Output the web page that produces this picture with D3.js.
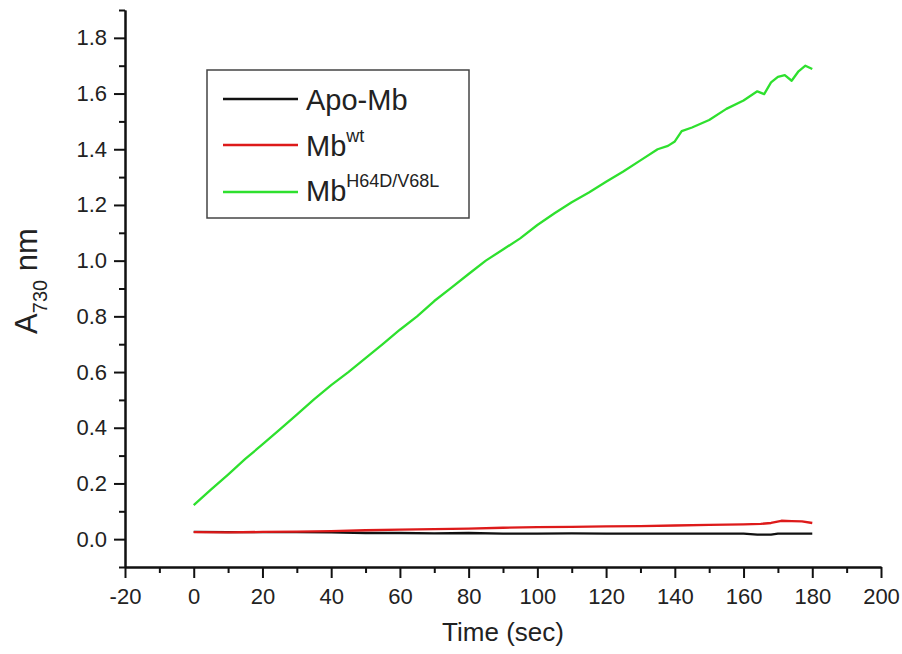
<!DOCTYPE html>
<meta charset="utf-8">
<style>
  body { margin: 0; background: #fff; }
  text { font-family: "Liberation Sans", Arial, sans-serif; fill: #222; }
  .axis path, .axis line { stroke: #111; stroke-width: 2; }
  .series { fill: none; stroke-width: 2.3; stroke-linejoin: round; }
</style>
<body></body>
<script src="https://cdn.jsdelivr.net/npm/d3@7"></script>
<script>

// time (sec), absorbance at 730 nm
var apoMb = [[0,0.026],[10,0.025],[20,0.025],[30,0.025],[40,0.024],[50,0.022],[60,0.022],
  [70,0.021],[80,0.022],[90,0.020],[100,0.020],[110,0.021],[120,0.020],[130,0.020],
  [140,0.020],[150,0.020],[160,0.020],[164,0.016],[168,0.016],[170,0.020],[180,0.020]];

var mbWt = [[0,0.025],[10,0.024],[20,0.026],[30,0.027],[40,0.029],[50,0.032],[60,0.034],
  [70,0.036],[80,0.038],[90,0.041],[100,0.043],[110,0.044],[120,0.046],[130,0.047],
  [140,0.049],[150,0.051],[160,0.053],[165,0.055],[168,0.058],[171,0.066],[174,0.065],
  [177,0.064],[180,0.058]];

var mbMut = [[0,0.122],[5,0.178],[10,0.232],[15,0.288],[20,0.340],[25,0.393],[30,0.447],
  [35,0.502],[40,0.553],[45,0.600],[50,0.650],[55,0.700],[60,0.752],[65,0.800],[70,0.855],
  [75,0.903],[80,0.952],[85,1.000],[90,1.040],[95,1.080],[100,1.128],[105,1.170],[110,1.210],
  [115,1.245],[120,1.283],[125,1.320],[130,1.360],[135,1.400],[138,1.412],[140,1.428],
  [142,1.465],[145,1.478],[150,1.505],[155,1.545],[160,1.575],[164,1.608],[166,1.598],
  [168,1.640],[170,1.660],[172,1.666],[174,1.646],[176,1.680],[178,1.700],[180,1.688]];

var xTicks = [-20, 0, 20, 40, 60, 80, 100, 120, 140, 160, 180, 200];
var yTicks = [0.0, 0.2, 0.4, 0.6, 0.8, 1.0, 1.2, 1.4, 1.6, 1.8];

var series = [
  {name: "Apo-Mb", sup: "", color: "#111111", values: apoMb},
  {name: "Mb", sup: "wt", color: "#dd1a1a", values: mbWt},
  {name: "Mb", sup: "H64D/V68L", color: "#2ee02e", values: mbMut}
];

var margin = {top: 10, right: 21, bottom: 87, left: 125};
var W = 902, H = 654;
var w = W - margin.left - margin.right,
    h = H - margin.top - margin.bottom;

var svg = d3.select("body").append("svg")
    .attr("width", W)
    .attr("height", H);

var g = svg.append("g")
    .attr("transform", "translate(" + margin.left + "," + margin.top + ")");

var x = d3.scaleLinear().domain([-20, 200]).range([0, w]);
var y = d3.scaleLinear().domain([-0.1, 1.9]).range([h, 0]);

// minor ticks
g.append("g").attr("class", "axis")
    .attr("transform", "translate(0," + h + ")")
    .call(d3.axisBottom(x).tickValues(d3.range(-10, 200, 20)).tickSize(6).tickSizeOuter(0).tickFormat(""));
g.append("g").attr("class", "axis")
    .call(d3.axisLeft(y).tickValues([-0.1, 0.1, 0.3, 0.5, 0.7, 0.9, 1.1, 1.3, 1.5, 1.7, 1.9]).tickSize(6).tickSizeOuter(0).tickFormat(""));

// major ticks
var xa = g.append("g").attr("class", "axis")
    .attr("transform", "translate(0," + h + ")")
    .call(d3.axisBottom(x).tickValues(xTicks).tickSize(11).tickSizeOuter(0)
      .tickFormat(function(d) { return String(d); }));
xa.selectAll("text")
    .attr("y", 37).attr("dy", 0)
    .style("font-size", "22px");

var ya = g.append("g").attr("class", "axis")
    .call(d3.axisLeft(y).tickValues(yTicks).tickSize(11).tickSizeOuter(0).tickFormat(d3.format(".1f")));
ya.selectAll("text")
    .attr("x", -18)
    .style("font-size", "22px");

var line = d3.line()
    .x(function(d) { return x(d[0]); })
    .y(function(d) { return y(d[1]); });

g.selectAll("path.series")
    .data(series)
    .enter().append("path")
    .attr("class", "series")
    .attr("stroke", function(d) { return d.color; })
    .attr("d", function(d) { return line(d.values); });

// axis titles
svg.append("text")
    .attr("x", margin.left + w / 2)
    .attr("y", 641)
    .attr("text-anchor", "middle")
    .style("font-size", "26px")
    .text("Time (sec)");

var yl = svg.append("text")
    .attr("transform", "translate(37,281) rotate(-90)")
    .attr("text-anchor", "middle")
    .style("font-size", "31px");
yl.append("tspan").text("A");
yl.append("tspan").attr("dy", 10).style("font-size", "20px").text("730");
yl.append("tspan").attr("dy", -10).text(" nm");

// legend
var lg = svg.append("g");
lg.append("rect")
    .attr("x", 207).attr("y", 70)
    .attr("width", 262).attr("height", 148)
    .attr("fill", "#fff")
    .attr("stroke", "#444")
    .attr("stroke-width", 1.5);

var rowY = [99, 145, 192];
var baseY = [110, 156, 201];

var items = lg.selectAll("g.item")
    .data(series)
    .enter().append("g").attr("class", "item");

items.append("line")
    .attr("x1", 223).attr("x2", 298)
    .attr("y1", function(d, i) { return rowY[i]; })
    .attr("y2", function(d, i) { return rowY[i]; })
    .attr("stroke", function(d) { return d.color; })
    .attr("stroke-width", 2.5);

var lt = items.append("text")
    .attr("x", 306)
    .attr("y", function(d, i) { return baseY[i]; })
    .style("font-size", "29px");
lt.append("tspan").text(function(d) { return d.name; });
lt.append("tspan")
    .attr("dy", -14)
    .style("font-size", "18px")
    .text(function(d) { return d.sup; });

</script>
